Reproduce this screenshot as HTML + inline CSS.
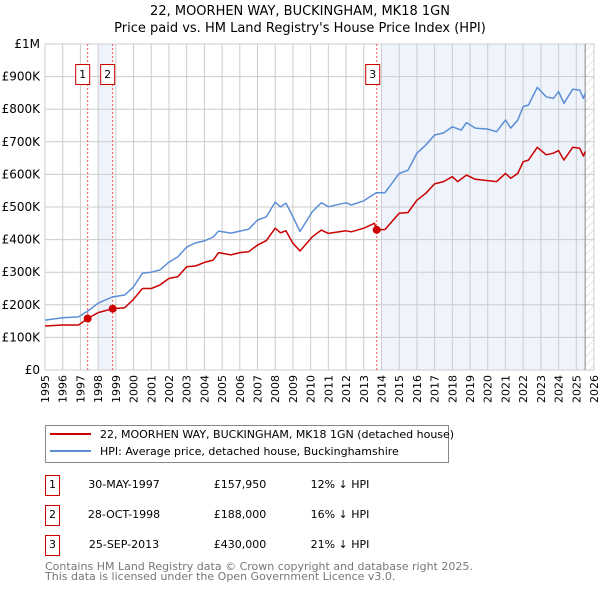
<!DOCTYPE html>
<html><head><meta charset="utf-8"><style>
body{margin:0;background:#fff;}
svg{display:block;font-family:"DejaVu Sans","Liberation Sans",sans-serif;}
</style></head><body>
<svg id="chart" width="600" height="590" viewBox="0 0 600 590">
<text x="300" y="15" text-anchor="middle" font-size="13" fill="#000">22, MOORHEN WAY, BUCKINGHAM, MK18 1GN</text>
<text x="300" y="32" text-anchor="middle" font-size="13" fill="#000">Price paid vs. HM Land Registry's House Price Index (HPI)</text>
<defs><pattern id="hatch" width="6" height="6" patternUnits="userSpaceOnUse" patternTransform="rotate(45)"><line x1="0" y1="0" x2="0" y2="6" stroke="#ccc" stroke-width="1"/></pattern></defs>
<g id="plot"></g>
<g>
<rect x="45.5" y="425.5" width="403" height="37" fill="#fff" stroke="#888"/>
<line x1="50" y1="434" x2="91" y2="434" stroke="#cc0000" stroke-width="2"/>
<text x="100" y="438" font-size="11">22, MOORHEN WAY, BUCKINGHAM, MK18 1GN (detached house)</text>
<line x1="50" y1="451" x2="91" y2="451" stroke="#5b8fd4" stroke-width="2"/>
<text x="100" y="455" font-size="11">HPI: Average price, detached house, Buckinghamshire</text>
</g>
<g font-size="11">
<rect x="45.5" y="475.5" width="14" height="20" fill="#fff" stroke="#cc0000"/><text x="52.5" y="488" text-anchor="middle">1</text>
<text x="124" y="488" text-anchor="middle">30-MAY-1997</text><text x="240" y="488" text-anchor="middle">£157,950</text><text x="340" y="488" text-anchor="middle">12% ↓ HPI</text>
<rect x="45.5" y="505.5" width="14" height="20" fill="#fff" stroke="#cc0000"/><text x="52.5" y="518" text-anchor="middle">2</text>
<text x="124" y="518" text-anchor="middle">28-OCT-1998</text><text x="240" y="518" text-anchor="middle">£188,000</text><text x="340" y="518" text-anchor="middle">16% ↓ HPI</text>
<rect x="45.5" y="535.5" width="14" height="20" fill="#fff" stroke="#cc0000"/><text x="52.5" y="548" text-anchor="middle">3</text>
<text x="124" y="548" text-anchor="middle">25-SEP-2013</text><text x="240" y="548" text-anchor="middle">£430,000</text><text x="340" y="548" text-anchor="middle">21% ↓ HPI</text>
</g>
<text x="45" y="570" font-size="11" fill="#777">Contains HM Land Registry data © Crown copyright and database right 2025.</text>
<text x="45" y="580" font-size="11" fill="#777">This data is licensed under the Open Government Licence v3.0.</text>
</svg>
<script>
const hpiYears=[1995,1996,1996.9,1997.5,1998,1998.8,1999.5,2000,2000.5,2001,2001.5,2002,2002.5,2003,2003.5,2004,2004.5,2004.8,2005.5,2006,2006.5,2007,2007.5,2008,2008.3,2008.6,2009,2009.4,2010.1,2010.6,2011,2012,2012.3,2013,2013.7,2014.2,2015,2015.5,2016,2016.5,2017,2017.5,2018,2018.5,2018.8,2019.3,2020,2020.5,2021,2021.3,2021.7,2022,2022.3,2022.8,2023.3,2023.7,2024,2024.3,2024.8,2025.2,2025.4,2025.5];
const hpiValues=[153,160,163,184,205,224,230,255,297,300,307,331,347,377,390,396,408,426,420,426,432,460,470,515,500,512,470,425,486,513,501,513,506,519,544,544,603,613,665,690,721,727,746,736,759,742,739,731,767,742,767,808,813,867,838,833,854,818,861,859,833,848];
const propYears=[1995,1996,1996.9,1997.41,1998,1998.82,1999.5,2000,2000.5,2001,2001.5,2002,2002.5,2003,2003.5,2004,2004.5,2004.8,2005.5,2006,2006.5,2007,2007.5,2008,2008.3,2008.6,2009,2009.4,2010.1,2010.6,2011,2012,2012.3,2013,2013.6,2013.73,2014.2,2015,2015.5,2016,2016.5,2017,2017.5,2018,2018.3,2018.8,2019.3,2020,2020.5,2021,2021.3,2021.7,2022,2022.3,2022.8,2023.3,2023.7,2024,2024.3,2024.8,2025.2,2025.4,2025.5];
const propValues=[135,138,138,158,176,188,191,217,250,250,261,281,286,317,319,330,337,360,353,360,363,383,397,435,421,427,389,365,409,429,419,427,424,435,450,430,431,481,483,521,542,571,578,593,578,598,585,581,578,603,588,603,639,644,683,660,665,673,644,683,680,656,670];
const saleLabels=["1","2","3"];
const saleYears=[1997.41,1998.82,2013.73];
const saleValues=[157.95,188,430];
const yTicks=[0,100,200,300,400,500,600,700,800,900,1000];
const yTickLabels=["£0","£100K","£200K","£300K","£400K","£500K","£600K","£700K","£800K","£900K","£1M"];
const xTicks=[1995,1996,1997,1998,1999,2000,2001,2002,2003,2004,2005,2006,2007,2008,2009,2010,2011,2012,2013,2014,2015,2016,2017,2018,2019,2020,2021,2022,2023,2024,2025,2026];

const X0=45,X1=594,Y0=370,Y1=44;
const xs=y=>X0+(y-1995)/(2026-1995)*(X1-X0);
const ys=v=>Y0-v/1000*(Y0-Y1);
const NS="http://www.w3.org/2000/svg";
const g=document.getElementById('plot');
function mk(t,a){const e=document.createElementNS(NS,t);for(const k in a)e.setAttribute(k,a[k]);g.appendChild(e);return e;}
let e;
e=mk('rect',{x:xs(1998),y:Y1,width:xs(1998.82)-xs(1998),height:Y0-Y1,fill:'#eef3fc'});


e=mk('rect',{x:xs(2014),y:Y1,width:xs(2025.5)-xs(2014),height:Y0-Y1,fill:'#eef3fc'});


e=mk('rect',{x:xs(2025.5),y:Y1,width:X1-xs(2025.5),height:Y0-Y1,fill:'url(#hatch)'});


xTicks.forEach(t=>{
 e=mk('line',{x1:xs(t),x2:xs(t),y1:Y1,y2:Y0,stroke:'#ccc','stroke-width':1});
 
 
 e=mk('text',{x:0,y:0,'font-size':11,'text-anchor':'end',transform:`translate(${xs(t)+4},${Y0+5}) rotate(-90)`});
 e.textContent=t;
 
 
});
yTicks.forEach((t,i)=>{
 e=mk('line',{x1:X0,x2:X1,y1:ys(t),y2:ys(t),stroke:'#ccc','stroke-width':1});
 
 
 e=mk('text',{x:40,y:ys(t)+4,'font-size':12,'text-anchor':'end'});
 e.textContent=yTickLabels[i];
 
 
});
e=mk('line',{x1:xs(2025.5),x2:xs(2025.5),y1:Y1,y2:Y0,stroke:'#888','stroke-width':1});


saleYears.forEach((s,i)=>{
 e=mk('line',{x1:xs(s),x2:xs(s),y1:Y1,y2:Y0,stroke:'#ee5555','stroke-width':1,'stroke-dasharray':'2,2'});
 
 
});
function path(xa,va,c,name){
 const d=xa.map((x,i)=>(i?'L':'M')+xs(x).toFixed(1)+','+ys(va[i]).toFixed(1)).join('');
 e=mk('path',{d:d,fill:'none',stroke:c,'stroke-width':1.5,'stroke-linejoin':'round'});
 
 
}
path(hpiYears,hpiValues,'#5b8fd4','hpi-line');
path(propYears,propValues,'#cc0000','property-price-line');
saleYears.forEach((s,i)=>{
 e=mk('circle',{cx:xs(s),cy:ys(saleValues[i]),r:4,fill:'#cc0000'});
 
 
 const bx=xs(s)-(i==2?4:5)-7;
 e=mk('rect',{x:bx,y:64.5,width:14,height:20,fill:'#fff',stroke:'#cc0000'});
 
 
 e=mk('text',{x:bx+7,y:78,'font-size':11,'text-anchor':'middle'});
 e.textContent=saleLabels[i];
 
 
});
</script>
</body></html>
